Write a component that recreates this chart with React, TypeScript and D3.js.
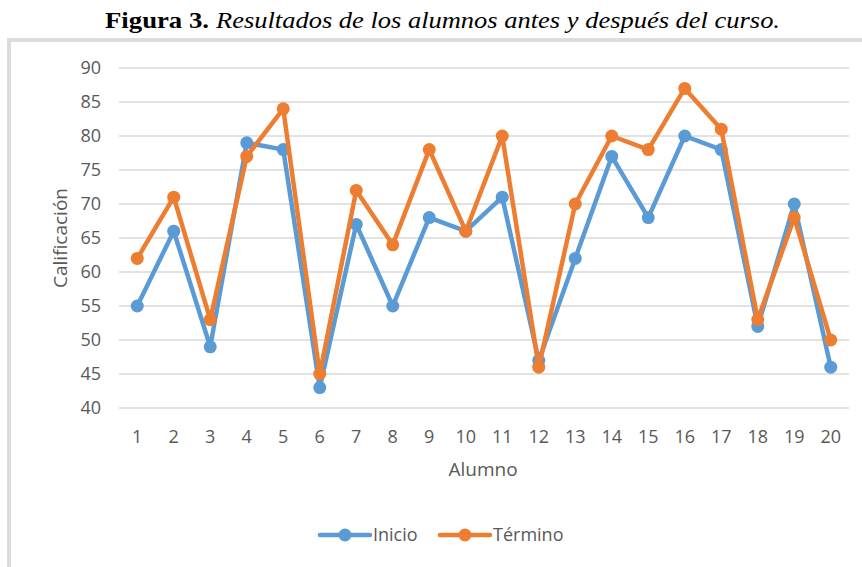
import React, { useEffect, useRef } from "react"
import * as d3 from "d3"

// student numbers and grades
const alumnos = ["1", "2", "3", "4", "5", "6", "7", "8", "9", "10", "11", "12", "13", "14", "15", "16", "17", "18", "19", "20"]
const inicio = [55, 66, 49, 79, 78, 43, 67, 55, 68, 66, 71, 47, 62, 77, 68, 80, 78, 52, 70, 46]
const termino = [62, 71, 53, 77, 84, 45, 72, 64, 78, 66, 80, 46, 70, 80, 78, 87, 81, 53, 68, 50]
const yTicks = [40, 45, 50, 55, 60, 65, 70, 75, 80, 85, 90]

const series = [
  { name: "Inicio", values: inicio, color: "#5B9BD5" },
  { name: "Término", values: termino, color: "#ED7D31" },
]

const W = 862
const H = 567
const FONT = "'Open Sans', 'Noto Sans', sans-serif"
const SERIF = "'Liberation Serif', 'Times New Roman', serif"

const drawChart = (wrapper: SVGSVGElement) => {
  const svg = d3.select(wrapper)
  svg.selectAll("*").remove()

  // caption above the frame, stretched to the width it has in the figure
  svg
    .append("text")
    .attr("x", 105)
    .attr("y", 28)
    .attr("textLength", 104)
    .attr("lengthAdjust", "spacingAndGlyphs")
    .style("font-family", SERIF)
    .style("font-size", "23px")
    .attr("font-weight", "bold")
    .text("Figura 3.")
  svg
    .append("text")
    .attr("x", 216)
    .attr("y", 28)
    .attr("textLength", 564)
    .attr("lengthAdjust", "spacingAndGlyphs")
    .style("font-family", SERIF)
    .style("font-size", "23px")
    .attr("font-style", "italic")
    .text("Resultados de los alumnos antes y después del curso.")

  // light frame (top and left edges only visible)
  svg.append("rect").attr("x", 7).attr("y", 38).attr("width", W).attr("height", 4).attr("fill", "#DCDCDC")
  svg.append("rect").attr("x", 7).attr("y", 38).attr("width", 4).attr("height", H).attr("fill", "#DCDCDC")

  const x = d3.scaleBand().domain(alumnos).range([119, 849])
  const y = d3.scaleLinear().domain([40, 90]).range([408, 68])

  // grid lines
  svg
    .append("g")
    .selectAll("line")
    .data(yTicks)
    .enter()
    .append("line")
    .attr("x1", 119)
    .attr("x2", 849)
    .attr("y1", d => y(d))
    .attr("y2", d => y(d))
    .attr("stroke", "#D9D9D9")
    .attr("stroke-width", 1.5)

  // y tick labels
  svg
    .append("g")
    .selectAll("text")
    .data(yTicks)
    .enter()
    .append("text")
    .attr("x", 101)
    .attr("y", d => y(d))
    .attr("dy", "0.35em")
    .attr("text-anchor", "end")
    .style("font-family", FONT)
    .style("font-size", "18px")
    .attr("fill", "#595959")
    .text(d => d)

  // x tick labels
  svg
    .append("g")
    .selectAll("text")
    .data(alumnos)
    .enter()
    .append("text")
    .attr("x", d => (x(d) as number) + x.bandwidth() / 2)
    .attr("y", 437)
    .attr("dy", "0.35em")
    .attr("text-anchor", "middle")
    .style("font-family", FONT)
    .style("font-size", "18px")
    .attr("fill", "#595959")
    .text(d => d)

  // axis titles
  svg
    .append("text")
    .attr("x", 483)
    .attr("y", 469)
    .attr("dy", "0.35em")
    .attr("text-anchor", "middle")
    .style("font-family", FONT)
    .style("font-size", "19px")
    .attr("fill", "#595959")
    .text("Alumno")

  svg
    .append("text")
    .attr("transform", "translate(60,238) rotate(-90)")
    .attr("dy", "0.35em")
    .attr("text-anchor", "middle")
    .style("font-family", FONT)
    .style("font-size", "19px")
    .attr("fill", "#595959")
    .text("Calificación")

  const cx = (i: number) => (x(alumnos[i]) as number) + x.bandwidth() / 2
  const line = d3
    .line<number>()
    .x((d, i) => cx(i))
    .y(d => y(d))

  series.forEach(s => {
    const g = svg.append("g")
    g.append("path")
      .attr("d", line(s.values))
      .attr("fill", "none")
      .attr("stroke", s.color)
      .attr("stroke-width", 4.5)
      .attr("stroke-linejoin", "round")
    g.selectAll("circle")
      .data(s.values)
      .enter()
      .append("circle")
      .attr("cx", (d, i) => cx(i))
      .attr("cy", d => y(d))
      .attr("r", 6.5)
      .attr("fill", s.color)
  })

  // legend
  const legendX = [320, 440]
  series.forEach((s, i) => {
    const g = svg.append("g").attr("transform", `translate(${legendX[i]},535)`)
    g.append("line").attr("x1", 0).attr("x2", 50).attr("stroke", s.color).attr("stroke-width", 4.5).attr("stroke-linecap", "round")
    g.append("circle").attr("cx", 25).attr("r", 6.5).attr("fill", s.color)
    g.append("text")
      .attr("x", 53)
      .attr("dy", "0.35em")
      .style("font-family", FONT)
      .style("font-size", "18px")
      .attr("fill", "#595959")
      .text(s.name)
  })
}

export default function App() {
  const ref = useRef<SVGSVGElement>(null)
  useEffect(() => {
    if (ref.current) drawChart(ref.current)
  }, [])

  return (
    <svg
      ref={ref}
      width={W}
      height={H}
      style={{ position: "absolute", left: 0, top: 0, background: "#fff" }}
    ></svg>
  )
}
